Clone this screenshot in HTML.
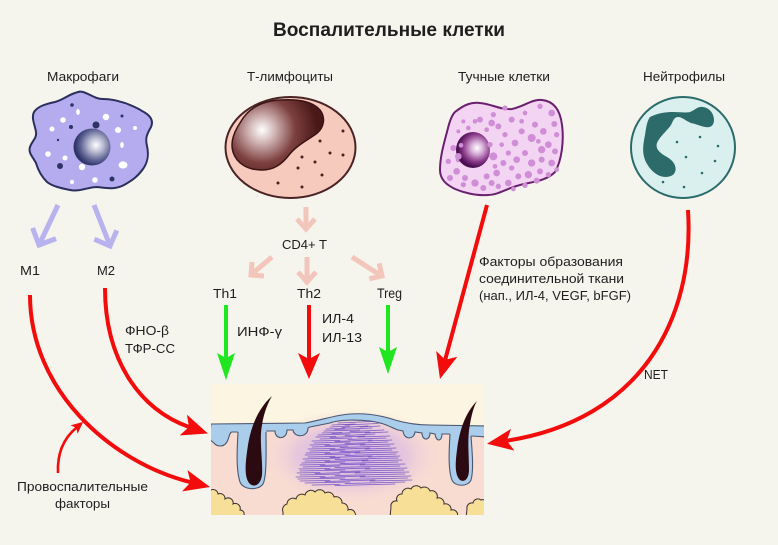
<!DOCTYPE html>
<html><head><meta charset="utf-8"><style>
html,body{margin:0;padding:0;background:#f5f4ed;}
svg{display:block;}
text{font-family:"Liberation Sans",sans-serif;fill:#1e1e1e;}
</style></head><body>
<svg width="778" height="545" viewBox="0 0 778 545" xmlns="http://www.w3.org/2000/svg">
<defs>
<radialGradient id="gMac" gradientUnits="userSpaceOnUse" cx="96" cy="145" r="21">
<stop offset="0" stop-color="#ffffff"/><stop offset="0.35" stop-color="#b9bbd2"/><stop offset="0.75" stop-color="#5b6091"/><stop offset="1" stop-color="#2e3468"/></radialGradient>
<radialGradient id="gT" gradientUnits="userSpaceOnUse" cx="262" cy="130" r="55">
<stop offset="0" stop-color="#ffffff"/><stop offset="0.25" stop-color="#cfb1b1"/><stop offset="0.6" stop-color="#7d4040"/><stop offset="1" stop-color="#4a1818"/></radialGradient>
<radialGradient id="gMast" gradientUnits="userSpaceOnUse" cx="477" cy="148" r="19">
<stop offset="0" stop-color="#ffffff"/><stop offset="0.3" stop-color="#dcb5dc"/><stop offset="0.72" stop-color="#8b3c8b"/><stop offset="1" stop-color="#4c0f52"/></radialGradient>
<radialGradient id="gGlow" cx="0.5" cy="0.5" r="0.5">
<stop offset="0" stop-color="#d6b2e4" stop-opacity="1"/><stop offset="0.6" stop-color="#e0bfe0" stop-opacity="0.75"/><stop offset="1" stop-color="#f8dcd2" stop-opacity="0"/></radialGradient>
<clipPath id="box"><rect x="211" y="384" width="273" height="131"/></clipPath>
<marker id="mr" viewBox="0 0 26 22" refX="6" refY="11" markerWidth="26" markerHeight="22" markerUnits="userSpaceOnUse" orient="auto"><path d="M0,0 L26,11 L0,22 L6,11 Z" fill="#f20c0c"/></marker>
<marker id="mg" viewBox="0 0 27 18" refX="5" refY="9" markerWidth="27" markerHeight="18" markerUnits="userSpaceOnUse" orient="auto"><path d="M0,0 L27,9 L0,18 L5,9 Z" fill="#1fe61f"/></marker>
<marker id="ms" viewBox="0 0 12 11" refX="3" refY="5.5" markerWidth="12" markerHeight="11" markerUnits="userSpaceOnUse" orient="auto"><path d="M0,0 L12,5.5 L0,11 L3,5.5 Z" fill="#f20c0c"/></marker>
</defs>

<!-- Title -->
<text x="273" y="36" font-size="19" font-weight="bold" textLength="232" lengthAdjust="spacingAndGlyphs">Воспалительные клетки</text>

<!-- Labels -->
<text x="47" y="81" font-size="13" textLength="72" lengthAdjust="spacingAndGlyphs">Макрофаги</text>
<text x="247" y="81" font-size="13" textLength="86" lengthAdjust="spacingAndGlyphs">Т-лимфоциты</text>
<text x="458" y="81" font-size="13" textLength="92" lengthAdjust="spacingAndGlyphs">Тучные клетки</text>
<text x="643" y="81" font-size="13" textLength="82" lengthAdjust="spacingAndGlyphs">Нейтрофилы</text>

<!-- Macrophage -->
<path d="M83,92 C90,94 95,99 103,99 C112,99 118,101 125,103 C133,106 138,108 142,111 C150,115 154,120 151,127 C147,134 145,138 147,146 C149,155 148,162 143,169 C138,176 133,180 124,185 C115,190 106,188 97,187 C88,187 80,192 70,190 C60,188 52,186 47,182 C42,177 38,170 36,163 C33,157 28,153 30,147 C32,141 37,138 36,132 C35,125 31,118 34,112 C38,106 46,104 55,102 C63,100 68,95 75,93 C78,92 80,91 83,92 Z" fill="#b4acef" stroke="#2b2f5c" stroke-width="2"/>
<g fill="#ffffff">
<ellipse cx="78" cy="112" rx="1.8" ry="3"/><circle cx="63" cy="120" r="2.8"/><circle cx="106" cy="117" r="3.2"/><circle cx="52" cy="129" r="2.5"/><circle cx="118" cy="130" r="3"/><circle cx="135" cy="128" r="2"/><ellipse cx="122" cy="145" rx="1.8" ry="3"/><circle cx="48" cy="154" r="2.8"/><circle cx="65" cy="158" r="2.5"/><circle cx="82" cy="167" r="3.2"/><ellipse cx="123" cy="165" rx="4.5" ry="3.6"/><circle cx="95" cy="180" r="2.8"/><circle cx="72" cy="182" r="2.2"/>
</g>
<g fill="#2e3366">
<circle cx="72" cy="105" r="1.8"/><circle cx="96" cy="125" r="3.5"/><circle cx="71" cy="127" r="2"/><circle cx="122" cy="116" r="1.5"/><circle cx="58" cy="140" r="1.2"/><circle cx="60" cy="166" r="3"/><circle cx="112" cy="179" r="2.5"/>
</g>
<circle cx="92" cy="147" r="18.5" fill="url(#gMac)"/>

<!-- T cell -->
<ellipse cx="290.5" cy="147.5" rx="65" ry="50.5" fill="#f6cabd" stroke="#4a2424" stroke-width="2"/>
<path d="M240,123 C248,108 262,101 280,100 C298,99 312,101 320,110 C326,118 324,128 316,134 C306,141 296,146 289,155 C282,164 274,170 262,170 C248,170 237,164 233,152 C230,142 234,132 240,123 Z" fill="url(#gT)" stroke="#3c1414" stroke-width="1.5"/>
<g fill="#4a2020">
<circle cx="343" cy="131" r="1.5"/><circle cx="320" cy="141" r="1.5"/><circle cx="330" cy="153" r="1.5"/><circle cx="343" cy="155" r="1.5"/><circle cx="302" cy="157" r="1.5"/><circle cx="315" cy="162" r="1.5"/><circle cx="298" cy="168" r="1.5"/><circle cx="322" cy="175" r="1.5"/><circle cx="278" cy="183" r="1.5"/><circle cx="302" cy="187" r="1.5"/>
</g>

<!-- Mast cell -->
<path d="M455,112 C465,104 472,102 480,103 C492,104 500,110 512,109 C525,106 532,99 542,100 C552,101 560,108 562,125 C564,140 562,160 555,172 C545,182 530,182 520,185 C505,189 498,195 488,195 C475,196 462,192 455,189 C447,185 440,180 440,170 C440,155 445,140 448,128 C450,120 452,115 455,112 Z" fill="#f3d4f3" stroke="#6a206e" stroke-width="2"/>
<g transform="translate(425,88) scale(0.33333)" fill="#cf8ed6">
<circle cx="165" cy="95" r="9"/><circle cx="205" cy="80" r="8"/><circle cx="200" cy="105" r="10"/><circle cx="260" cy="95" r="9"/><circle cx="300" cy="75" r="7"/><circle cx="345" cy="55" r="8"/><circle cx="380" cy="75" r="10"/><circle cx="330" cy="110" r="9"/><circle cx="355" cy="130" r="10"/><circle cx="388" cy="108" r="9"/><circle cx="395" cy="140" r="8"/><circle cx="370" cy="170" r="10"/><circle cx="390" cy="190" r="9"/><circle cx="350" cy="185" r="11"/><circle cx="320" cy="150" r="12"/><circle cx="290" cy="130" r="9"/><circle cx="270" cy="165" r="10"/><circle cx="240" cy="140" r="8"/><circle cx="220" cy="115" r="9"/><circle cx="185" cy="125" r="7"/><circle cx="120" cy="150" r="7"/><circle cx="85" cy="180" r="9"/><circle cx="70" cy="220" r="8"/><circle cx="95" cy="250" r="10"/><circle cx="120" cy="270" r="9"/><circle cx="150" cy="285" r="11"/><circle cx="185" cy="265" r="9"/><circle cx="215" cy="255" r="10"/><circle cx="235" cy="225" r="9"/><circle cx="205" cy="205" r="12"/><circle cx="250" cy="195" r="8"/><circle cx="275" cy="215" r="10"/><circle cx="300" cy="195" r="9"/><circle cx="320" cy="225" r="11"/><circle cx="350" cy="215" r="9"/><circle cx="380" cy="225" r="10"/><circle cx="345" cy="250" r="9"/><circle cx="310" cy="260" r="11"/><circle cx="280" cy="265" r="9"/><circle cx="250" cy="285" r="10"/><circle cx="220" cy="295" r="8"/><circle cx="175" cy="300" r="9"/><circle cx="115" cy="290" r="8"/><circle cx="75" cy="270" r="9"/><circle cx="265" cy="303" r="7"/><circle cx="300" cy="292" r="8"/><circle cx="335" cy="278" r="9"/><circle cx="370" cy="260" r="8"/><circle cx="395" cy="245" r="7"/><circle cx="130" cy="120" r="7"/><circle cx="115" cy="100" r="6"/><circle cx="150" cy="100" r="7"/><circle cx="240" cy="60" r="8"/><circle cx="290" cy="100" r="7"/><circle cx="210" cy="235" r="7"/><circle cx="100" cy="215" r="8"/><circle cx="230" cy="170" r="7"/><circle cx="260" cy="240" r="8"/><circle cx="200" cy="285" r="9"/><circle cx="340" cy="160" r="7"/><circle cx="100" cy="130" r="6"/>
</g>
<ellipse cx="473" cy="150" rx="17" ry="18" fill="url(#gMast)"/>
<g transform="translate(425,88) scale(0.33333)" fill="#cf8ed6">
<circle cx="100" cy="205" r="10"/><circle cx="108" cy="172" r="7"/><circle cx="195" cy="170" r="8"/>
</g>

<!-- Neutrophil -->
<ellipse cx="683" cy="147.5" rx="52" ry="50.5" fill="#d9f0ef" stroke="#2b6b6b" stroke-width="2"/>
<path d="M650,117 C658,113 666,112 673,112 C680,112 686,113 690,112 C695,110 698,106 703,107 C710,108 714,114 714,120 C714,126 710,128 705,127 C700,126 696,124 691,123 C686,121 682,117 678,117 C674,117 673,121 671,125 C667,131 660,136 657,143 C655,149 660,153 667,157 C674,161 677,167 675,172 C673,177 666,178 660,176 C653,173 648,167 645,160 C642,152 643,145 645,135 C646,128 647,121 650,117 Z" fill="#2d6b6b"/>
<g fill="#2d6b6b">
<circle cx="677" cy="142" r="1.3"/><circle cx="700" cy="137" r="1.3"/><circle cx="718" cy="146" r="1.3"/><circle cx="686" cy="157" r="1.3"/><circle cx="715" cy="161" r="1.3"/><circle cx="702" cy="173" r="1.3"/><circle cx="663" cy="182" r="1.3"/><circle cx="684" cy="187" r="1.3"/>
</g>

<!-- Lavender arrows -->
<g fill="none" stroke="#b8b2ee" stroke-width="5">
<line x1="58" y1="205" x2="40" y2="243"/>
<polyline points="32.6,228 39,245 56,238.6"/>
<line x1="94" y1="205" x2="109" y2="243"/>
<polyline points="94.4,239.2 110,246 116.8,230.4"/>
</g>

<!-- Pink arrows -->
<g fill="none" stroke="#f3c6bc" stroke-width="5">
<line x1="306" y1="207" x2="306" y2="228"/>
<polyline points="297,219 306,229 315,219"/>
<line x1="272" y1="257" x2="253" y2="273"/>
<polyline points="252,262 251,275 264,276"/>
<line x1="307" y1="257" x2="307" y2="280"/>
<polyline points="298,272 307,282 316,272"/>
<line x1="352" y1="257" x2="380" y2="275"/>
<polyline points="379.2,263.3 382,276 369.3,278.8"/>
</g>

<!-- text labels -->
<text x="20" y="275" font-size="13" textLength="20" lengthAdjust="spacingAndGlyphs">M1</text>
<text x="97" y="275" font-size="13" textLength="18" lengthAdjust="spacingAndGlyphs">M2</text>
<text x="282" y="249" font-size="13" textLength="45" lengthAdjust="spacingAndGlyphs">CD4+ T</text>
<text x="213" y="298" font-size="13" textLength="24" lengthAdjust="spacingAndGlyphs">Th1</text>
<text x="297" y="298" font-size="13" textLength="24" lengthAdjust="spacingAndGlyphs">Th2</text>
<text x="377" y="298" font-size="13.5" textLength="25" lengthAdjust="spacingAndGlyphs">Treg</text>
<text x="237" y="336" font-size="13" textLength="45" lengthAdjust="spacingAndGlyphs">ИНФ-γ</text>
<text x="322" y="323" font-size="13" textLength="32" lengthAdjust="spacingAndGlyphs">ИЛ-4</text>
<text x="322" y="342" font-size="13" textLength="40" lengthAdjust="spacingAndGlyphs">ИЛ-13</text>
<text x="125" y="335" font-size="13" textLength="44" lengthAdjust="spacingAndGlyphs">ФНО-β</text>
<text x="125" y="353" font-size="13" textLength="50" lengthAdjust="spacingAndGlyphs">ТФР-СС</text>
<text x="17" y="491" font-size="13" textLength="131" lengthAdjust="spacingAndGlyphs">Провоспалительные</text>
<text x="55" y="508" font-size="13" textLength="55" lengthAdjust="spacingAndGlyphs">факторы</text>
<text x="479" y="266" font-size="13" textLength="144" lengthAdjust="spacingAndGlyphs">Факторы образования</text>
<text x="479" y="283" font-size="13" textLength="145" lengthAdjust="spacingAndGlyphs">соединительной ткани</text>
<text x="479" y="300" font-size="13" textLength="152" lengthAdjust="spacingAndGlyphs">(нап., ИЛ-4, VEGF, bFGF)</text>
<text x="644" y="379" font-size="13" textLength="24" lengthAdjust="spacingAndGlyphs">NET</text>

<!-- Tissue -->
<g clip-path="url(#box)">
<rect x="211" y="384" width="273" height="131" fill="#f8dcd2"/>
<path d="M211,384 H484 V426 L430,425 C415,425 405,423 395,420 C380,415 365,413 350,414 C335,415 322,420 305,423 L211,424 Z" fill="#fcf5e1"/>
<ellipse cx="352" cy="456" rx="92" ry="48" fill="url(#gGlow)"/>
<!-- epidermis -->
<path d="M211,424 L305,423 C322,420 335,415 350,414 C365,413 380,415 395,420 C405,423 415,425 430,425 L486,426 L486,437 L472,436 L448,434 L442,434 C442,442 436,442 435,434 L430,433 C430,441 422,441 422,433 L415,432 C414,440 404,440 403,431 L398,430 C390,427 385,423 370,421 C360,420 340,419 330,423 L310,427 L308,428 C308,438 294,438 293,430 L288,430 L287,430 C287,440 275,440 275,431 L266,431 L240,432 L232,432 C228,432 230,446 220,446 C214,446 213,440 209,440 Z" fill="#a9cdea" stroke="#4a5872" stroke-width="1.1"/>
<!-- follicles -->
<path d="M238,428 C237,450 236,470 240,482 C243,490 258,491 263,484 C267,476 266,450 266,428 Z" fill="#a9cdea"/>
<path d="M238,432 C237,450 236,470 240,482 C243,490 258,491 263,484 C267,476 266,450 266,432" fill="none" stroke="#4a5872" stroke-width="1.1"/>
<path d="M450,430 C449,450 448,470 452,480 C455,487 468,487 471,480 C474,470 472,450 471,430 Z" fill="#a9cdea"/>
<path d="M450,434 C449,450 448,470 452,480 C455,487 468,487 471,480 C474,470 472,450 471,436" fill="none" stroke="#4a5872" stroke-width="1.1"/>
<!-- hairs -->
<path d="M272,396 C262,405 252,420 248,445 C245,465 244,478 250,484 C255,488 261,484 262,475 C263,460 259,440 262,425 C264,412 268,403 272,396 Z" fill="#2b0a12"/>
<path d="M477,401 C468,410 460,425 457,450 C455,465 455,475 460,480 C465,483 469,478 469,470 C469,455 467,438 470,424 C472,413 474,406 477,401 Z" fill="#2b0a12"/>
<!-- fibrosis lines -->
<g stroke="#5b3dbf" stroke-width="0.75" stroke-opacity="0.8" fill="none" stroke-linecap="round">
<path d="M338,423 L360,422 M350,422.5 L372,421.5 M332,425 L355,424 M345,425 L378,423.5 M330,427 L350,426 M342,427.5 L368,426 M360,427 L380,426 M326,429 L345,428.5 M335,429.5 L372,428 M324,431 L360,430 M350,431.5 L384,430 M322,433 L342,432.5 M332,433.5 L370,432 M365,433 L388,432 M318,435 L350,434 M345,435.5 L375,434 M316,437 L336,436.5 M330,437.5 L365,436 M358,437 L390,436 M320,439 L352,438 M348,439.5 L386,438 M312,441 L340,440.5 M335,441.5 L372,440 M368,441 L392,440 M314,443 L350,442 M345,443.5 L388,442 M310,445 L330,444.5 M325,445.5 L365,444 M360,445 L394,444 M312,447 L348,446 M340,447.5 L390,446 M308,449 L335,448.5 M330,449.5 L370,448 M365,449 L396,448 M310,451 L345,450 M340,451.5 L392,450 M306,453 L330,452.5 M325,453.5 L360,452 M355,453 L398,452 M305,455 L350,454 M345,455.5 L396,454 M308,457 L335,456.5 M330,457.5 L372,456 M368,457 L400,456 M303,459 L340,458 M335,459.5 L398,458 M305,461 L330,460.5 M325,461.5 L368,460 M362,461 L402,460 M302,463 L345,462 M340,463.5 L398,462 M300,465 L325,464.5 M320,465.5 L365,464 M360,465 L405,464 M303,467 L340,466 M335,467.5 L400,466 M299,469 L330,468.5 M325,469.5 L370,468 M365,469 L407,468 M300,471 L345,470 M340,471.5 L404,470 M297,473 L320,472.5 M315,473.5 L360,472 M355,473 L409,472 M300,475 L340,474 M335,475.5 L405,474 M296,477 L325,476.5 M320,477.5 L365,476 M360,477 L411,476 M298,479 L345,478 M340,479.5 L408,478 M300,481 L330,480.5 M325,481.5 L375,480 M370,481 L412,480 M305,483 L350,482 M345,483.5 L405,482 M312,485 L340,484.5 M335,485.5 L395,484"/>
</g>
<!-- fat lobules -->
<g fill="#f7df98" stroke="#3a3030" stroke-width="1">
<path d="M209,490 L211,490 a5,5 0 0 1 7,4 a5,5 0 0 1 7,5 a5,5 0 0 1 8,5 a5,5 0 0 1 7,6 a4,4 0 0 1 4,5 L244,518 L209,518 Z"/>
<path d="M283,518 L283,512 a6,6 0 0 1 4,-8 a6,6 0 0 1 9,-5 a6,6 0 0 1 9,-4 a6,6 0 0 1 10,-3 a6,6 0 0 1 10,1 a6,6 0 0 1 9,4 a6,6 0 0 1 8,6 a6,6 0 0 1 6,7 a5,5 0 0 1 7,3 L357,518 Z"/>
<path d="M390,518 L391,507 a5,5 0 0 1 6,-6 a5,5 0 0 1 5,-7 a6,6 0 0 1 9,-5 a6,6 0 0 1 10,-1 a6,6 0 0 1 9,3 a5.5,5.5 0 0 1 7,7 a5.5,5.5 0 0 1 7,6 a5.5,5.5 0 0 1 7,6 a5,5 0 0 1 6,7 L458,518 Z"/>
<path d="M466,518 L467,509 a5,5 0 0 1 6,-6 a5,5 0 0 1 8,-3 a5,5 0 0 1 5,1 L488,501 L488,518 Z"/>
</g>
</g>

<!-- Red / green arrows -->
<g fill="none" stroke-width="4">
<path d="M30,295 C30,390 110,462 190.6,482.2" stroke="#f20c0c" marker-end="url(#mr)"/>
<path d="M105,288 C105,360 140,410 189,427" stroke="#f20c0c" marker-end="url(#mr)"/>
<path d="M58,473 C57,452 64,438 76.3,427.7" stroke="#f20c0c" stroke-width="2.6" marker-end="url(#ms)"/>
<path d="M226,305 L226,358" stroke="#1fe61f" marker-end="url(#mg)"/>
<path d="M309,305 L309,359" stroke="#f20c0c" marker-end="url(#mr)"/>
<path d="M388,305 L388,352" stroke="#1fe61f" marker-end="url(#mg)"/>
<path d="M487,205 L445.2,359.7" stroke="#f20c0c" marker-end="url(#mr)"/>
<path d="M688,210 C695,320 640,420 506.8,440.7" stroke="#f20c0c" marker-end="url(#mr)"/>
</g>
</svg>
</body></html>
